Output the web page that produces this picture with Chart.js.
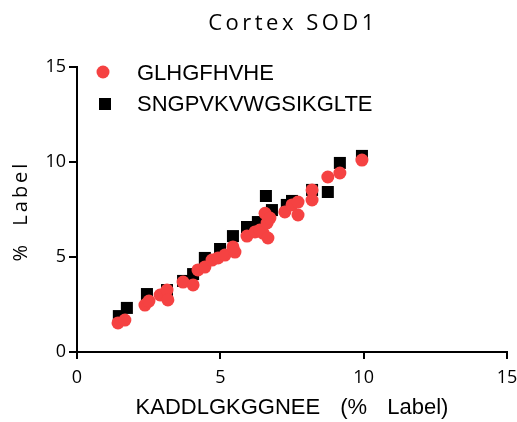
<!DOCTYPE html>
<html>
<head>
<meta charset="utf-8">
<script src="https://cdn.jsdelivr.net/npm/chart.js@4.4.0/dist/chart.umd.min.js"></script>
<style>
html,body{margin:0;padding:0;background:#fff;}
#c{display:block;}
</style>
</head>
<body>
<canvas id="c" width="517" height="422"></canvas>
<script>
const chartTitle = "Cortex SOD1";
const xAxisTitle = "KADDLGKGGNEE (% Label)";
const yAxisTitle = "% Label";
const seriesNames = ["GLHGFHVHE", "SNGPVKVWGSIKGLTE"];
const tickValues = [0, 5, 10, 15];

const glhX = [1.43,1.67,2.37,2.51,2.90,3.14,3.17,3.70,4.05,4.22,4.46,4.71,4.92,5.16,5.51,5.44,5.93,6.21,6.38,6.49,6.66,6.63,6.56,6.73,7.25,7.50,7.71,7.71,8.20,8.20,8.75,9.17,9.94];
const glhY = [1.53,1.68,2.47,2.68,3.00,3.26,2.74,3.68,3.53,4.32,4.47,4.84,4.95,5.10,5.26,5.53,6.10,6.32,6.42,6.26,6.00,6.79,7.30,7.05,7.37,7.74,7.89,7.21,8.53,8.00,9.21,9.42,10.10];

const sngX = [1.46,1.74,2.44,3.14,3.70,4.05,4.46,4.99,5.44,5.93,6.31,6.59,6.80,7.32,7.50,8.20,8.75,9.17,9.94];
const sngY = [1.89,2.32,3.05,3.26,3.74,4.10,4.95,5.42,6.10,6.58,6.84,8.21,7.47,7.74,7.95,8.53,8.42,9.95,10.32];

const RED = 'rgb(245,66,66)';
const BLACK = '#000';

function pts(xs, ys){ return xs.map((x,i)=>({x:x, y:ys[i]})); }

const decor = {
  id: 'decor',
  afterDraw(chart){
    const ctx = chart.ctx;
    ctx.save();
    ctx.fillStyle = '#000';
    // title
    ctx.font = '22px "Open Sans"';
    ctx.letterSpacing = '3.5px';
    ctx.textAlign = 'center';
    ctx.textBaseline = 'middle';
    ctx.fillText(chartTitle, 293, 24);
    // y title
    ctx.save();
    ctx.translate(21, 212);
    ctx.rotate(-Math.PI/2);
    ctx.font = '20px "Open Sans"';
    ctx.letterSpacing = '3px';
    try { ctx.wordSpacing = '8px'; } catch(e){}
    ctx.fillText(yAxisTitle, 1, 0);
    ctx.restore();
    // x title
    ctx.letterSpacing = '0px';
    ctx.font = '22px "Liberation Sans"';
    try { ctx.wordSpacing = '14px'; } catch(e){}
    ctx.fillText(xAxisTitle, 292, 408);
    try { ctx.wordSpacing = '0px'; } catch(e){}
    // legend
    ctx.textAlign = 'left';
    ctx.font = '22px "Liberation Sans"';
    ctx.fillStyle = RED;
    ctx.beginPath();
    ctx.arc(103, 72, 6.5, 0, Math.PI*2);
    ctx.fill();
    ctx.fillStyle = BLACK;
    ctx.fillRect(99, 98, 12, 12);
    ctx.fillText(seriesNames[0], 137, 74);
    ctx.fillText(seriesNames[1], 137, 105);
    ctx.restore();
  }
};

new Chart(document.getElementById('c'), {
  type: 'scatter',
  data: {
    datasets: [
      { label: seriesNames[0], data: pts(glhX, glhY), pointStyle: 'circle', pointRadius: 6.5, pointHoverRadius: 6.5, backgroundColor: RED, borderWidth: 0 },
      { label: seriesNames[1], data: pts(sngX, sngY), pointStyle: 'rect', pointRadius: 8.5, pointHoverRadius: 8.5, backgroundColor: BLACK, borderWidth: 0 }
    ]
  },
  options: {
    responsive: false,
    animation: false,
    events: [],
    layout: { padding: { top: 67, right: 10, left: 0, bottom: 0 } },
    plugins: { legend: { display: false }, title: { display: false }, tooltip: { enabled: false } },
    scales: {
      x: {
        type: 'linear', min: 0, max: 15,
        afterBuildTicks(s){ s.ticks = tickValues.map(v=>({value:v})); },
        afterFit(s){ s.height = 70; s.paddingLeft = 0; s.paddingRight = 0; },
        ticks: { color: '#000', font: { family: 'Open Sans', size: 18 }, padding: 8 },
        grid: { drawOnChartArea: false, drawTicks: true, tickLength: 7, color: '#000', lineWidth: 2 },
        border: { display: true, color: '#000', width: 2 }
      },
      y: {
        type: 'linear', min: 0, max: 15,
        afterBuildTicks(s){ s.ticks = tickValues.map(v=>({value:v})); },
        afterFit(s){ s.width = 77; s.paddingTop = 0; s.paddingBottom = 0; },
        ticks: { color: '#000', font: { family: 'Open Sans', size: 18 }, padding: 3 },
        grid: { drawOnChartArea: false, drawTicks: true, tickLength: 8, color: '#000', lineWidth: 2 },
        border: { display: true, color: '#000', width: 2 }
      }
    }
  },
  plugins: [decor]
});
</script>
</body>
</html>
